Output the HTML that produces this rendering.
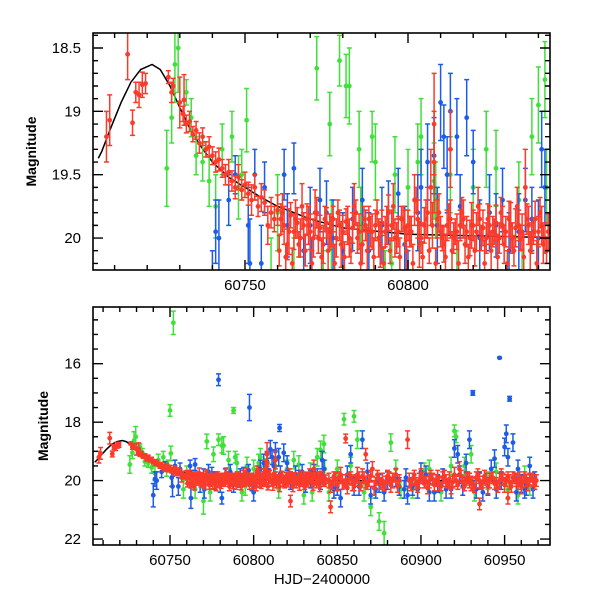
<!DOCTYPE html>
<html><head><meta charset="utf-8"><style>
body{margin:0;background:#fff}
svg{display:block}
text{font-family:"Liberation Sans",sans-serif;fill:#000}
</style></head><body>
<svg id="chart" width="600" height="600" viewBox="0 0 600 600"></svg>
<script>
// ---- data ----
const modelT=[60705,60706,60709,60712,60715,60718,60721.5,60724,60727,60730,60733,60736,60740,60745,60750,60755,60760,60770,60780,60800,60850,60900,60970];
const modelM=[19.37,19.32,19.12,18.93,18.77,18.67,18.63,18.67,18.8,18.97,19.13,19.26,19.4,19.52,19.6,19.68,19.75,19.85,19.92,19.97,20.0,20.0,20.0];

const redEarlyT=[60707.5,60708.5,60714,60715.5,60716.5,60717.5,60718.5,60719.5,60726.5,60727.5,60728,60730,60731.3];
const redEarlyM=[19.2,19.07,18.55,19.09,18.85,18.87,18.79,18.78,18.73,18.85,18.8,18.93,18.91];
const redEarlyE=[0.2,0.2,0.2,0.1,0.08,0.1,0.1,0.08,0.05,0.08,0.06,0.2,0.2];

const redT1=[];for(let t=60731;t<=60843;t++)redT1.push(t);
const redM1=[19.02,19.1,19.08,19.18,19.15,19.25,19.2,19.3,19.28,19.35,19.4,19.38,19.45,19.5,19.48,19.55,19.6,19.52,19.62,19.58,19.65,19.7,19.6,19.75,19.68,19.72,19.9,19.8,19.85,19.78,
19.85,19.9,20.05,19.82,19.95,19.88,20.0,19.9,19.85,19.95,20.0,19.8,19.92,20.05,19.88,19.95,19.85,20.0,19.9,19.95,19.87,20.0,19.92,19.8,19.95,20.05,19.9,19.85,19.95,19.9,20.0,19.88,19.95,19.8,19.9,20.0,19.95,19.85,19.92,19.9,
19.95,19.7,19.85,20.0,19.9,19.8,19.6,19.4,19.85,19.95,20.05,19.9,19.85,20.0,19.95,19.9,19.85,19.95,20.0,19.9,19.95,19.85,19.92,20.0,19.9,19.95,19.88,20.0,19.9,19.95,19.85,20.0,19.92,19.9,19.95,19.6,19.9,20.0,19.85,19.95,19.9,20.0,19.95];
const redE1=[0.06,0.07,0.08,0.06,0.07,0.08,0.07,0.06,0.08,0.07,0.08,0.09,0.07,0.08,0.1,0.08,0.09,0.1,0.08,0.1,0.09,0.12,0.1,0.08,0.11,0.1,0.15,0.12,0.1,0.12,
0.12,0.15,0.12,0.1,0.14,0.12,0.15,0.1,0.12,0.14,0.15,0.12,0.1,0.15,0.12,0.14,0.1,0.15,0.12,0.13,0.1,0.15,0.12,0.1,0.14,0.15,0.12,0.1,0.14,0.12,0.15,0.1,0.12,0.14,0.12,0.15,0.12,0.1,0.14,0.12,
0.12,0.2,0.15,0.12,0.14,0.2,0.3,0.4,0.15,0.12,0.14,0.12,0.15,0.12,0.14,0.12,0.15,0.12,0.14,0.12,0.15,0.12,0.14,0.12,0.15,0.12,0.14,0.12,0.15,0.12,0.14,0.12,0.15,0.12,0.14,0.3,0.15,0.12,0.14,0.12,0.15,0.12,0.14];

const redT3=[];for(let t=60760.5;t<=60842.5;t++)redT3.push(t);
const redM3=[20.1,19.8,20.15,19.95,20.2,19.85,20.05,19.75,20.1,19.9,20.2,19.8,20.0,20.15,19.85,20.1,19.95,20.2,19.8,20.05,
20.15,19.9,20.1,19.75,20.0,20.2,19.85,20.1,19.95,20.15,19.8,20.05,20.2,19.9,20.1,19.75,20.0,20.15,19.85,20.1,
19.95,20.2,19.7,20.05,20.15,19.85,20.1,19.9,20.2,19.8,20.0,20.15,19.85,20.1,19.95,20.2,19.8,20.05,20.15,19.9,
20.1,19.75,20.0,20.2,19.85,20.1,19.95,20.15,19.8,20.05,20.2,19.9,20.1,19.75,20.0,20.15,19.85,20.1,19.95,20.2,19.8,20.05,20.1];
const redE3=[0.12,0.15,0.1,0.18,0.12,0.15,0.1,0.18,0.12,0.15,0.1,0.18,0.12,0.15,0.1,0.18,0.12,0.15,0.1,0.18,
0.12,0.15,0.1,0.18,0.12,0.15,0.1,0.18,0.12,0.15,0.1,0.18,0.12,0.15,0.1,0.18,0.12,0.15,0.1,0.18,
0.12,0.15,0.1,0.18,0.12,0.15,0.1,0.18,0.12,0.15,0.1,0.18,0.12,0.15,0.1,0.18,0.12,0.15,0.1,0.18,
0.12,0.15,0.1,0.18,0.12,0.15,0.1,0.18,0.12,0.15,0.1,0.18,0.12,0.15,0.1,0.18,0.12,0.15,0.1,0.18,0.12,0.15,0.1];

const redT2=[60845,60847,60849,60851,60853,60855,60857,60859,60861,60863,60865,60867,60869,60871,60873,60875,60877,60879,60881,60883,60885,60887,
60893,60895,60897,60899,60901,60903,60905,60907,60909,60911,60913,60915,60917,60919,60921,60923,60925,60927,60929,60931,60933,60935,60937,60939,60941,60943,60945,60947,60949,60951,60953,60955,60957,60959,60961,60963,60965,60967,60969];
const redM2=[20.0,20.1,19.95,19.9,20.05,20.0,19.95,20.1,20.0,19.9,19.85,20.05,20.0,19.6,20.1,19.95,20.0,20.05,19.9,20.0,19.8,20.0,
20.0,19.95,20.1,20.0,19.9,20.05,20.0,19.95,20.0,20.1,19.9,20.0,19.95,20.05,20.0,19.6,20.05,19.95,20.0,20.1,19.9,20.0,20.05,19.95,20.0,19.9,20.1,20.0,19.95,20.0,20.05,19.9,20.0,19.95,20.05,20.0,19.95,20.0,20.0];
const redE2=[0.25,0.2,0.2,0.2,0.25,0.2,0.2,0.25,0.2,0.2,0.25,0.2,0.2,0.25,0.2,0.2,0.25,0.2,0.2,0.25,0.2,0.2,
0.25,0.2,0.2,0.25,0.2,0.2,0.25,0.2,0.2,0.25,0.2,0.2,0.25,0.2,0.2,0.25,0.2,0.2,0.25,0.2,0.2,0.25,0.2,0.2,0.25,0.2,0.2,0.25,0.2,0.2,0.25,0.2,0.2,0.25,0.2,0.2,0.2,0.2,0.2];

const redT4=[60846,60848,60850,60852,60854,60856,60858,60860,60862,60864,60866,60868,60870,60872,60874,60876,60878,60880,60882,60884,60886,
60894,60896,60898,60900,60902,60904,60906,60908,60910,60912,60914,60916,60918,60920,60922,60924,60926,60928,60930,60932,60934,60936,60938,60940,60942,60944,60946,60948,60950,60952,60954,60956,60958,60960,60962,60964,60966,60968];
const redM4=[20.2,19.85,20.15,19.8,20.1,20.25,19.85,20.15,19.8,20.2,19.9,20.15,19.85,20.25,19.8,20.1,20.2,19.85,20.15,19.9,20.2,
20.15,19.8,20.2,19.85,20.1,20.25,19.8,20.15,19.9,20.2,19.85,20.1,20.25,19.8,20.15,19.85,20.2,19.9,20.1,20.25,19.8,20.15,19.85,20.2,19.9,20.1,20.25,19.8,20.15,19.85,20.2,19.9,20.1,20.2,19.85,20.15,19.9,20.1];
const redE4=[0.2,0.15,0.2,0.25,0.15,0.2,0.15,0.2,0.25,0.15,0.2,0.15,0.2,0.25,0.15,0.2,0.15,0.2,0.25,0.15,0.2,
0.2,0.15,0.2,0.25,0.15,0.2,0.15,0.2,0.25,0.15,0.2,0.15,0.2,0.25,0.15,0.2,0.15,0.2,0.25,0.15,0.2,0.15,0.2,0.25,0.15,0.2,0.15,0.2,0.25,0.15,0.2,0.15,0.2,0.25,0.15,0.2,0.15,0.2];

const redExtraT=[60855,60867,60892,60822,60846,60935,60952,60808,60813];
const redExtraM=[18.56,19.1,18.6,20.7,20.9,20.8,20.6,19.1,19.3];
const redExtraE=[0.15,0.2,0.3,0.2,0.2,0.2,0.2,0.4,0.3];

const blueT=[60741,60742,60745,60747,60751,60753,60755,60756,60762,60765,60770,60775,60780,60786,60792,60797,60803,60806,60808,60810,60811,60815,60818,60820,60825,60829,60834,60838,60841,60842,
60740,60751.5,60762.5,60770.5,60779,60781,60797.5,60800,60815.5,60813,60850,60852,60858,60865,60870,60878,60885,60890,60891,60892,60900,60905,60915,60920,60922,60927,60929,60931,60937,60942,60944,60947,60950,60951,60952,60953,60955,60958,60962,60965,60968,60860,60875,60895,60910,60925,60935,60945,60960,
60763,60768,60773,60777,60783,60788,60794,60799,60804,60809,60812,60816,60822,60827,60831,60836,60840,
60848,60856,60863,60868,60873,60880,60887,60898,60903,60908,60913,60918,60923,60933,60940,60948,60957,60963,60967];
const blueM=[19.95,20.0,19.7,19.5,19.9,19.5,20.2,19.6,19.5,19.45,19.9,19.8,20.1,19.7,19.9,19.65,19.8,19.4,19.35,18.93,19.2,19.2,19.05,19.4,19.8,19.7,19.95,19.85,19.3,19.6,
20.5,20.2,20.6,20.3,16.55,20.6,17.5,20.4,18.2,19.0,20.2,20.6,19.1,18.6,20.5,20.4,19.9,20.3,19.9,20.5,19.7,20.4,20.3,18.9,19.1,19.4,18.6,17.0,20.4,19.6,19.25,15.8,18.85,18.4,19.2,17.2,18.7,19.6,20.3,19.5,20.0,20.2,20.1,20.2,20.1,20.2,20.0,20.3,20.1,
19.9,20.1,19.7,20.0,19.85,20.1,19.8,20.05,19.6,19.9,19.5,19.75,20.0,19.9,20.1,19.7,20.0,
20.3,19.8,20.2,19.7,20.3,20.0,20.2,20.3,19.8,20.4,19.9,20.3,19.8,20.3,20.2,20.0,20.4,20.2,20.3];
const blueE=[0.25,0.3,0.2,0.15,0.3,0.2,0.3,0.2,0.2,0.2,0.3,0.25,0.3,0.25,0.3,0.2,0.3,0.3,0.3,0.3,0.25,0.3,0.3,0.25,0.3,0.25,0.3,0.25,0.3,0.3,
0.4,0.35,0.35,0.3,0.2,0.2,0.45,0.3,0.12,0.3,0.3,0.3,0.3,0.3,0.3,0.3,0.3,0.3,0.3,0.3,0.3,0.3,0.3,0.3,0.3,0.3,0.3,0.08,0.3,0.3,0.3,0.02,0.3,0.3,0.3,0.08,0.3,0.3,0.3,0.3,0.3,0.3,0.3,0.3,0.3,0.3,0.3,0.3,0.3,
0.25,0.3,0.25,0.3,0.25,0.3,0.25,0.3,0.3,0.3,0.3,0.25,0.3,0.25,0.3,0.25,0.3,
0.3,0.3,0.3,0.3,0.3,0.3,0.3,0.3,0.3,0.3,0.3,0.3,0.3,0.3,0.3,0.3,0.3,0.3,0.3];

const greenT=[60726,60727.5,60728.5,60729.5,60732,60733.5,60735,60737,60750.5,60772,60776,60781,60785,60790,60796,60800,60804,60808,60813,60820,60824,60827,60834,60838,60840,60842,
60746,60749,60752,60750,60758,60770,60774,60779,60782,60788,60789,60793,60803,60830,60845,60850,60854,60860,60862,60870,60875,60878,60882,60888,60905,60920,60921,60926,60930,60940,60958,60965,
60739,60741,60743,60748,60760,60765,60776.5,60785.5,60795,60808.5,60815,60825,60835,60842.5,60848,60858,60866,60885,60895,60902,60912,60918,60932,60945,60952,60962];
const greenM=[19.45,19.05,18.63,18.5,18.85,19.05,19.35,19.4,19.07,18.66,19.1,18.8,19.3,19.4,19.5,19.6,19.2,19.55,19.5,19.6,19.3,19.45,19.7,19.2,18.95,18.75,
19.2,19.5,14.6,17.6,20.3,20.7,20.4,18.6,18.8,17.6,19.2,20.4,19.4,20.5,20.4,19.6,17.9,17.8,18.6,20.9,21.4,21.8,18.7,20.3,19.6,18.3,18.5,19.5,19.1,20.0,20.5,20.2,
19.55,19.75,19.3,19.6,19.8,20.3,20.0,19.9,20.2,19.7,20.3,19.8,20.4,19.6,20.3,19.5,20.4,19.6,20.3,19.7,20.4,19.5,20.4,19.7,20.3,19.8];
const greenE=[0.3,0.2,0.3,0.35,0.1,0.15,0.15,0.15,0.25,0.25,0.25,0.25,0.3,0.3,0.3,0.3,0.3,0.3,0.3,0.3,0.3,0.3,0.3,0.3,0.3,0.3,
0.2,0.2,0.4,0.2,0.3,0.45,0.3,0.2,0.3,0.1,0.2,0.3,0.3,0.3,0.3,0.3,0.2,0.2,0.3,0.3,0.3,0.4,0.3,0.3,0.3,0.2,0.2,0.3,0.3,0.3,0.3,0.3,
0.2,0.25,0.2,0.25,0.3,0.3,0.3,0.3,0.3,0.3,0.3,0.3,0.3,0.3,0.3,0.3,0.3,0.3,0.3,0.3,0.3,0.3,0.3,0.3,0.3,0.3];

// ---- panels ----
const NS='http://www.w3.org/2000/svg';
const svg=document.getElementById('chart');
function el(tag,attrs,parent){const e=document.createElementNS(NS,tag);for(const k in attrs)e.setAttribute(k,attrs[k]);(parent||svg).appendChild(e);return e;}

const panels=[
 {name:'top-panel',L:93,R:550,T:33,B:270,t0:60750,xt0:245,pxd:3.26,m0:18.5,ym0:48,pxm:126.7,
  xMaj:[60750,60800],xMin:10,yMaj:[18.5,19,19.5,20],yLab:['18.5','19','19.5','20'],yMin:0.1,tmin:60700,tmax:60850,mmin:18.3,mmax:20.3,ylx:36},
 {name:'bottom-panel',L:93,R:550,T:307,B:545,t0:60750,xt0:170,pxd:1.673,m0:16,ym0:363.7,pxm:29.22,
  xMaj:[60750,60800,60850,60900,60950],xMin:10,yMaj:[16,18,20,22],yLab:['16','18','20','22'],yMin:0.5,tmin:60700,tmax:60980,mmin:14,mmax:22.5,ylx:48}
];

panels.forEach((p,pi)=>{
 const X=t=>p.xt0+(t-p.t0)*p.pxd;
 const Y=m=>p.ym0+(m-p.m0)*p.pxm;
 const g=el('g',{});
 
 
 const cid='clip'+pi;
 const cp=el('clipPath',{id:cid},g);
 el('rect',{x:p.L,y:p.T,width:p.R-p.L,height:p.B-p.T},cp);
 const d=el('g',{'clip-path':'url(#'+cid+')'},g);
 function series(T,M,E,color,name){
  const sg=el('g',{},d);
  
  
  for(let i=0;i<T.length;i++){
   const x=X(T[i]),y1=Y(M[i]-E[i]),y2=Y(M[i]+E[i]),y=Y(M[i]);
   el('path',{d:`M${x},${y1}V${y2}M${x-2.5},${y1}h5M${x-2.5},${y2}h5`,stroke:color,'stroke-width':1.5,fill:'none'},sg);
   const c=el('circle',{cx:x,cy:y,r:2.4,fill:color},sg);
   
   
  }
 }
 let path='';modelT.forEach((t,i)=>{path+=(i?'L':'M')+X(t)+','+Y(modelM[i]);});
 const mp=el('path',{d:path,stroke:'#000','stroke-width':1.5,fill:'none'},d);
 
 
 series(greenT,greenM,greenE,'#3fe03a','green-series');
 series(blueT,blueM,blueE,'#1c5ce6','blue-series');
 series(redEarlyT,redEarlyM,redEarlyE,'#fa3a2a','red-series-early');
 series(redT3,redM3,redE3,'#fa3a2a','red-series-b');
 series(redT1,redM1,redE1,'#fa3a2a','red-series');
 series(redT4,redM4,redE4,'#fa3a2a','red-series-late-b');
 series(redT2,redM2,redE2,'#fa3a2a','red-series-late');
 series(redExtraT,redExtraM,redExtraE,'#fa3a2a','red-series-extra');
 const fr=el('rect',{x:p.L,y:p.T,width:p.R-p.L,height:p.B-p.T,fill:'none',stroke:'#000','stroke-width':1.6},g);
 
 
 let tk='';
 for(let t=Math.ceil(p.tmin/p.xMin)*p.xMin;t<=p.tmax;t+=p.xMin){
  const x=X(t);if(x<p.L+1||x>p.R-1)continue;
  const len=(t%50===0)?10:5;
  tk+=`M${x},${p.B}v${-len}M${x},${p.T}v${len}`;
 }
 for(let m=Math.ceil(p.mmin/p.yMin)*p.yMin;m<=p.mmax+1e-9;m+=p.yMin){
  const mm=Math.round(m*100)/100;const y=Y(mm);if(y<p.T+1||y>p.B-1)continue;
  const isMaj=p.yMaj.some(v=>Math.abs(v-mm)<1e-6);
  const len=isMaj?10:5;
  tk+=`M${p.L},${y}h${len}M${p.R},${y}h${-len}`;
 }
 el('path',{d:tk,stroke:'#000','stroke-width':1.4,fill:'none'},g);
 p.xMaj.forEach(t=>{
  const tx=el('text',{x:X(t),y:p.B+20,'text-anchor':'middle','font-size':15},g);
  tx.textContent=String(t);
  
  
 });
 p.yMaj.forEach((m,i)=>{
  const ty=el('text',{x:p.L-12,y:Y(m)+5,'text-anchor':'end','font-size':15},g);
  ty.textContent=p.yLab[i];
  
  
 });
 const cy=(p.T+p.B)/2;
 const yl=el('text',{x:0,y:0,'text-anchor':'middle','font-size':14,'font-weight':'bold',transform:`translate(${p.ylx},${cy}) rotate(-90)`},g);
 yl.textContent='Magnitude';
 
 
});
const xl=el('text',{x:322,y:584,'text-anchor':'middle','font-size':15,'font-family':'Liberation Serif, serif'});
xl.textContent='HJD−2400000';


</script>
</body></html>
